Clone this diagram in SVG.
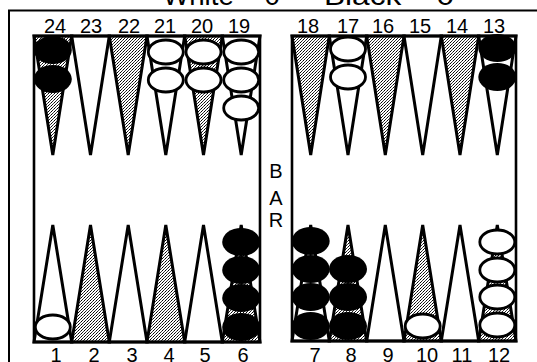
<svg xmlns="http://www.w3.org/2000/svg" width="537" height="362" viewBox="0 0 537 362">
<defs>
<pattern id="stip" width="3" height="3" patternUnits="userSpaceOnUse">
<rect width="3" height="3" fill="#fff"/>
<rect x="0" y="0" width="1" height="1" fill="#000"/>
<rect x="1" y="2" width="1" height="1" fill="#222"/>
<rect x="2" y="1" width="1" height="1" fill="#444"/>
</pattern>
</defs>
<style>
.t{font-family:"Liberation Sans",Arial,sans-serif;fill:#000}
.num{font-size:20px;text-anchor:middle}
.ttl{font-size:27px}
.bar{font-size:20px;text-anchor:middle}
.pt{stroke:#000;stroke-width:3;stroke-linejoin:miter}
.w{fill:#fff}
.s{fill:url(#stip)}
.bk{fill:#000}
.wc{fill:#fff;stroke:#000;stroke-width:2.8}
.frame{fill:none;stroke:#000;stroke-width:2.6}
</style>
<rect width="537" height="362" fill="#fff"/>
<g id="title">
<text class="t ttl" x="163" y="5" textLength="117" lengthAdjust="spacingAndGlyphs">White – 0</text>
<text class="t ttl" x="324" y="5" textLength="130" lengthAdjust="spacingAndGlyphs">Black – 0</text>
</g>
<g id="outer-frame">
<line x1="8" y1="10.5" x2="537" y2="10.5" stroke="#000" stroke-width="2.2"/>
<line x1="9" y1="10" x2="9" y2="362" stroke="#000" stroke-width="2"/>
</g>
<g id="points-top-left">
<polygon class="pt s" points="34,36 71.7,36 52.8,155"/>
<polygon class="pt w" points="71.7,36 109.3,36 90.5,155"/>
<polygon class="pt s" points="109.3,36 147,36 128.2,155"/>
<polygon class="pt w" points="147,36 184.7,36 165.8,155"/>
<polygon class="pt s" points="184.7,36 222.3,36 203.5,155"/>
<polygon class="pt w" points="222.3,36 260,36 241.2,155"/>
</g>
<g id="points-bottom-left">
<polygon class="pt w" points="34,342 71.7,342 52.8,225"/>
<polygon class="pt s" points="71.7,342 109.3,342 90.5,225"/>
<polygon class="pt w" points="109.3,342 147,342 128.2,225"/>
<polygon class="pt s" points="147,342 184.7,342 165.8,225"/>
<polygon class="pt w" points="184.7,342 222.3,342 203.5,225"/>
<polygon class="pt s" points="222.3,342 260,342 241.2,225"/>
</g>
<g id="points-top-right">
<polygon class="pt s" points="292,36 329.3,36 310.7,155"/>
<polygon class="pt w" points="329.3,36 366.7,36 348,155"/>
<polygon class="pt s" points="366.7,36 404,36 385.3,155"/>
<polygon class="pt w" points="404,36 441.3,36 422.7,155"/>
<polygon class="pt s" points="441.3,36 478.7,36 460,155"/>
<polygon class="pt w" points="478.7,36 516,36 497.3,155"/>
</g>
<g id="points-bottom-right">
<polygon class="pt w" points="292,341 329.3,341 310.7,225"/>
<polygon class="pt s" points="329.3,341 366.7,341 348,225"/>
<polygon class="pt w" points="366.7,341 404,341 385.3,225"/>
<polygon class="pt s" points="404,341 441.3,341 422.7,225"/>
<polygon class="pt w" points="441.3,341 478.7,341 460,225"/>
<polygon class="pt s" points="478.7,341 516,341 497.3,225"/>
</g>
<g id="board-left"><rect class="frame" x="34" y="36" width="226" height="306"/></g>
<g id="board-right"><rect class="frame" x="292" y="36" width="224" height="305"/></g>
<g id="checkers-black">
<ellipse class="bk" cx="52.8" cy="50" rx="19" ry="14"/>
<ellipse class="bk" cx="52.8" cy="79" rx="19" ry="14"/>
<ellipse class="bk" cx="497.3" cy="48" rx="19" ry="14"/>
<ellipse class="bk" cx="497.3" cy="77" rx="19" ry="14"/>
<ellipse class="bk" cx="241.2" cy="242" rx="19" ry="14"/>
<ellipse class="bk" cx="241.2" cy="270" rx="19" ry="14"/>
<ellipse class="bk" cx="241.2" cy="298" rx="19" ry="14"/>
<ellipse class="bk" cx="241.2" cy="327" rx="19" ry="14"/>
<ellipse class="bk" cx="310.7" cy="241" rx="19" ry="14"/>
<ellipse class="bk" cx="310.7" cy="269" rx="19" ry="14"/>
<ellipse class="bk" cx="310.7" cy="297" rx="19" ry="14"/>
<ellipse class="bk" cx="310.7" cy="326" rx="19" ry="14"/>
<ellipse class="bk" cx="348" cy="269" rx="19" ry="14"/>
<ellipse class="bk" cx="348" cy="297" rx="19" ry="14"/>
<ellipse class="bk" cx="348" cy="326" rx="19" ry="14"/>
</g>
<g id="checkers-white">
<ellipse class="wc" cx="165.8" cy="52" rx="17.5" ry="12"/>
<ellipse class="wc" cx="165.8" cy="80" rx="17.5" ry="12"/>
<ellipse class="wc" cx="203.5" cy="52" rx="17.5" ry="12"/>
<ellipse class="wc" cx="203.5" cy="80" rx="17.5" ry="12"/>
<ellipse class="wc" cx="241.2" cy="52" rx="17.5" ry="12"/>
<ellipse class="wc" cx="241.2" cy="80" rx="17.5" ry="12"/>
<ellipse class="wc" cx="241.2" cy="108" rx="17.5" ry="12"/>
<ellipse class="wc" cx="348" cy="49" rx="17.5" ry="12"/>
<ellipse class="wc" cx="348" cy="77" rx="17.5" ry="12"/>
<ellipse class="wc" cx="52.8" cy="327" rx="17.5" ry="12"/>
<ellipse class="wc" cx="422.7" cy="326" rx="17.5" ry="12"/>
<ellipse class="wc" cx="497.3" cy="242" rx="17.5" ry="12"/>
<ellipse class="wc" cx="497.3" cy="270" rx="17.5" ry="12"/>
<ellipse class="wc" cx="497.3" cy="297" rx="17.5" ry="12"/>
<ellipse class="wc" cx="497.3" cy="325" rx="17.5" ry="12"/>
</g>
<g id="labels-top">
<text class="t num" x="55" y="33">24</text>
<text class="t num" x="91" y="33">23</text>
<text class="t num" x="129" y="33">22</text>
<text class="t num" x="165" y="33">21</text>
<text class="t num" x="202" y="33">20</text>
<text class="t num" x="239" y="33">19</text>
<text class="t num" x="308" y="33">18</text>
<text class="t num" x="348" y="33">17</text>
<text class="t num" x="383" y="33">16</text>
<text class="t num" x="420" y="33">15</text>
<text class="t num" x="457" y="33">14</text>
<text class="t num" x="494" y="33">13</text>
</g>
<g id="labels-bottom">
<text class="t num" x="56" y="362">1</text>
<text class="t num" x="94" y="362">2</text>
<text class="t num" x="132" y="362">3</text>
<text class="t num" x="169" y="362">4</text>
<text class="t num" x="205" y="362">5</text>
<text class="t num" x="243" y="362">6</text>
<text class="t num" x="315" y="362">7</text>
<text class="t num" x="351" y="362">8</text>
<text class="t num" x="388" y="362">9</text>
<text class="t num" x="427" y="362">10</text>
<text class="t num" x="462" y="362">11</text>
<text class="t num" x="499" y="362">12</text>
</g>
<g id="bar-label">
<text class="t bar" x="276" y="178">B</text>
<text class="t bar" x="276" y="205">A</text>
<text class="t bar" x="276" y="227">R</text>
</g>
</svg>
